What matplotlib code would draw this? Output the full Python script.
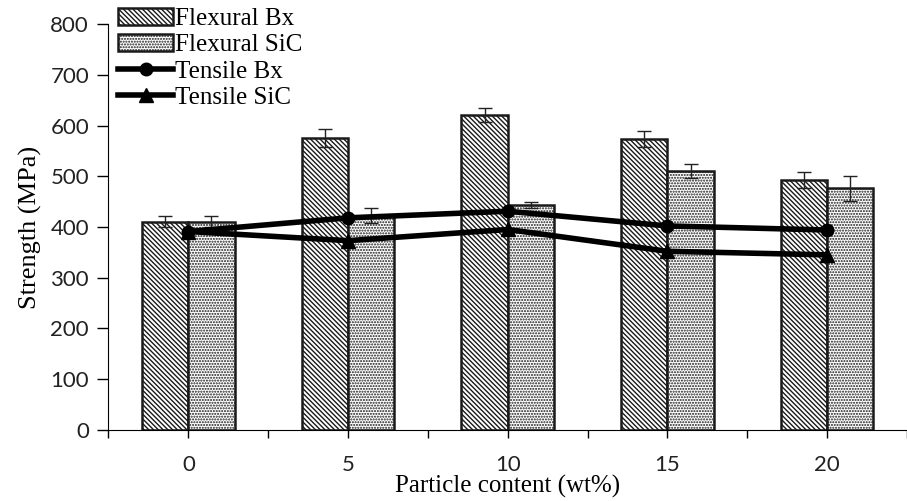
import matplotlib
matplotlib.use('Agg')
import matplotlib.pyplot as plt
import numpy as np

plt.rcParams['hatch.linewidth'] = 1.0

content = ['0', '5', '10', '15', '20']
flex_bx = [410, 576, 620, 573, 492]
flex_bx_err = [11, 18, 14, 16, 16]
flex_sic = [410, 422, 443, 510, 476]
flex_sic_err = [11, 15, 6, 14, 24]
tens_bx = [391, 418, 431, 402, 394]
tens_sic = [391, 373, 395, 352, 345]

x = np.arange(len(content))
w = 0.29

fig = plt.figure(figsize=(9.07, 5.01), dpi=100)
ax = fig.add_axes([0.1196, 0.142, 0.8804, 0.81])

b1 = ax.bar(x - w/2, flex_bx, w, color='white', edgecolor='#1a1a1a', hatch='\\' * 7,
            linewidth=1.8, label='Flexural Bx', zorder=2)
b2 = ax.bar(x + w/2, flex_sic, w, color='white', edgecolor='#1a1a1a', hatch='.' * 6,
            linewidth=1.8, label='Flexural SiC', zorder=2)
ax.errorbar(x - w/2, flex_bx, yerr=flex_bx_err, fmt='none', ecolor='#222222',
            elinewidth=1.0, capsize=5, capthick=1.0, zorder=3)
ax.errorbar(x + w/2, flex_sic, yerr=flex_sic_err, fmt='none', ecolor='#222222',
            elinewidth=1.0, capsize=5, capthick=1.0, zorder=3)

l1, = ax.plot(x, tens_bx, color='black', lw=4, marker='o', ms=9, label='Tensile Bx', zorder=4)
l2, = ax.plot(x, tens_sic, color='black', lw=4, marker='^', ms=10, label='Tensile SiC', zorder=4)

ax.set_xlim(-0.5, 4.452)
ax.set_ylim(0, 800)
ax.set_yticks(range(0, 801, 100))
ax.set_xticks(x)
ax.set_xticks(np.arange(-0.5, 4.6, 1), minor=True)
ax.set_xticklabels(content)
ax.tick_params(axis='x', which='major', length=6, width=1, pad=12)
ax.tick_params(axis='x', which='minor', length=6, width=1)
ax.tick_params(axis='y', length=8, width=1, pad=6)
for lab in ax.get_xticklabels() + ax.get_yticklabels():
    lab.set_family('Lato')
    lab.set_fontsize(16)
    lab.set_color('#222222')

ax.spines['top'].set_visible(False)
ax.spines['right'].set_visible(False)

ax.set_xlabel('Particle content (wt%)', family='Liberation Serif', fontsize=18, labelpad=0)
ax.set_ylabel('Strength (MPa)', family='Liberation Serif', fontsize=19, labelpad=6)

leg = ax.legend([b1, b2, l1, l2], ['Flexural Bx', 'Flexural SiC', 'Tensile Bx', 'Tensile SiC'],
                loc='upper left', bbox_to_anchor=(0.0, 1.065), frameon=False,
                prop={'family': 'Liberation Serif', 'size': 18},
                handlelength=2.2, handleheight=0.7, handletextpad=0.05,
                labelspacing=0.15, borderaxespad=0)

fig.savefig('out.png', dpi=100)
